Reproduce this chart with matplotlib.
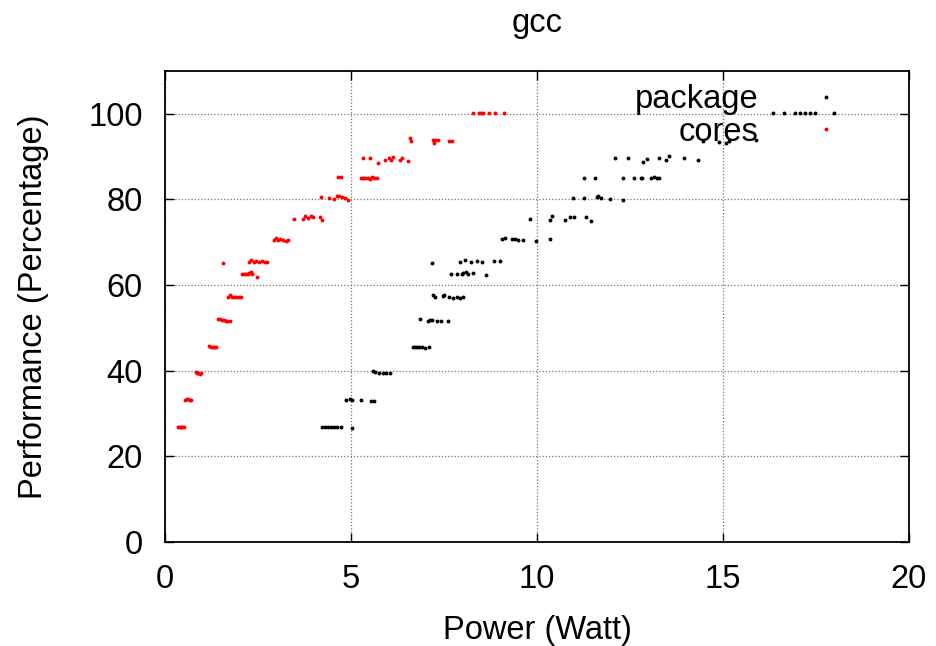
import matplotlib
matplotlib.use("Agg")
import matplotlib.pyplot as plt

plt.rcParams['font.family'] = ['Liberation Sans', 'DejaVu Sans']

# ---- data: package (black) ----
pkg_x = [4.22, 4.30, 4.38, 4.46, 4.55, 4.63, 4.72, 5.02,
         4.86, 4.96, 5.04, 5.27, 5.53, 5.62,
         5.59, 5.64, 5.75, 5.85, 5.95, 6.05,
         6.67, 6.72, 6.77, 6.83, 6.92, 7.00, 7.10,
         6.85, 7.07, 7.12, 7.17, 7.30, 7.42, 7.60,
         7.17,
         7.21, 7.26, 7.47, 7.51, 7.64, 7.73, 7.86, 7.93, 8.00,
         7.69, 7.84, 7.99, 8.02, 8.09, 8.15, 8.29, 8.62,
         7.93, 8.06, 8.22, 8.38, 8.51, 8.85, 9.01,
         9.05, 9.14, 9.32, 9.41, 9.50, 9.62, 9.97, 10.35,
         9.81, 10.35, 10.41, 10.75, 10.90, 11.00, 11.32, 11.45,
         10.98, 11.25, 11.60, 11.65, 11.72, 11.96, 12.32,
         11.25, 11.56, 12.30, 12.61, 12.79, 12.83, 13.06, 13.15, 13.22, 13.29,
         12.10, 12.45, 12.84, 12.97, 13.29, 13.46, 13.56, 13.96, 14.34,
         14.45, 14.90, 15.08, 15.15, 15.90,
         16.35, 16.64, 16.94, 17.07, 17.20, 17.34, 17.47, 17.98]
pkg_y = [26.9, 26.8, 26.8, 26.8, 26.8, 26.8, 26.9, 26.6,
         33.2, 33.3, 33.2, 33.2, 33.0, 32.9,
         39.9, 39.6, 39.4, 39.4, 39.4, 39.5,
         45.5, 45.6, 45.6, 45.5, 45.5, 45.4, 45.5,
         52.1, 51.7, 51.8, 51.8, 51.6, 51.6, 51.5,
         65.1,
         57.6, 57.2, 57.5, 57.6, 57.3, 57.1, 57.2, 57.1, 57.2,
         62.5, 62.6, 62.6, 62.9, 63.1, 62.7, 62.9, 62.4,
         65.5, 65.8, 65.5, 65.7, 65.5, 65.7, 65.6,
         70.7, 71.0, 70.8, 70.7, 70.6, 70.6, 70.3, 70.8,
         75.5, 75.3, 76.1, 75.3, 75.8, 75.8, 75.8, 74.9,
         80.3, 80.3, 80.6, 80.8, 80.3, 80.2, 79.8,
         85.0, 85.0, 85.0, 84.9, 84.9, 85.1, 84.9, 85.3, 85.0, 85.0,
         89.6, 89.6, 88.7, 89.4, 89.6, 89.3, 90.1, 89.6, 89.2,
         93.6, 93.5, 93.3, 93.6, 93.9,
         100.2, 100.2, 100.1, 100.2, 100.2, 100.1, 100.2, 100.2]

# ---- data: cores (red) ----
cor_x = [0.35, 0.39, 0.43, 0.47, 0.52,
         0.55, 0.59, 0.63, 0.67, 0.71,
         0.82, 0.86, 0.90, 0.94, 0.98,
         1.19, 1.24, 1.28, 1.33, 1.38,
         1.43, 1.48, 1.53, 1.58, 1.63, 1.68, 1.74,
         1.55,
         1.70, 1.75, 1.80, 1.86, 1.92, 1.98, 2.03,
         2.06, 2.12, 2.18, 2.22, 2.27, 2.31, 2.35, 2.47,
         2.26, 2.32, 2.38, 2.44, 2.52, 2.60, 2.68, 2.74,
         2.93, 2.98, 3.04, 3.10, 3.16, 3.24, 3.31,
         3.47, 3.71, 3.76, 3.85, 3.92, 3.99, 4.17, 4.22,
         4.19, 4.42, 4.54, 4.62, 4.67, 4.76, 4.84, 4.92,
         4.64, 4.74,
         5.28, 5.32, 5.38, 5.45, 5.50, 5.56, 5.62, 5.71,
         5.33, 5.51, 5.72,
         5.91, 6.02, 6.08, 6.12, 6.32, 6.37, 6.52,
         6.59, 6.62,
         7.21, 7.23, 7.27, 7.34, 7.63, 7.72,
         8.28, 8.44, 8.50, 8.56, 8.71, 8.87, 9.10]
cor_y = [26.9, 26.8, 26.9, 26.8, 26.8,
         33.2, 33.3, 33.3, 33.2, 33.2,
         39.6, 39.4, 39.4, 39.3, 39.5,
         45.7, 45.6, 45.6, 45.5, 45.5,
         52.0, 52.1, 51.8, 51.8, 51.6, 51.7, 51.6,
         65.1,
         57.3, 57.6, 57.2, 57.3, 57.2, 57.3, 57.2,
         62.5, 62.5, 62.6, 62.5, 62.8, 63.0, 62.6, 62.0,
         65.4, 65.8, 65.5, 65.7, 65.4, 65.6, 65.4, 65.5,
         70.5, 70.9, 70.5, 70.8, 70.6, 70.3, 70.6,
         75.5, 75.5, 76.2, 75.6, 76.1, 76.0, 76.0, 75.2,
         80.5, 80.3, 80.0, 80.8, 80.9, 80.5, 80.3, 79.8,
         85.2, 85.2,
         85.1, 85.0, 84.9, 85.1, 84.8, 85.2, 85.0, 85.1,
         89.6, 89.6, 88.6,
         89.2, 89.6, 89.2, 89.9, 89.2, 89.6, 89.0,
         94.3, 93.6,
         93.9, 93.3, 93.9, 93.9, 93.6, 93.6,
         100.1, 100.1, 100.1, 100.1, 100.1, 100.1, 100.1]

x_ticks = [0, 5, 10, 15, 20]
y_ticks = [0, 20, 40, 60, 80, 100]

FS = 23.5

fig = plt.figure(figsize=(9.36, 6.46), dpi=100)
ax = fig.add_axes([165/936, 1 - 542/646, 744/936, 471/646])

ax.plot(pkg_x, pkg_y, 'o', color='black', markersize=2.8, markeredgewidth=0, label='package')
ax.plot(cor_x, cor_y, 'o', color='red', markersize=2.8, markeredgewidth=0, label='cores')

ax.set_xlim(0, 20)
ax.set_ylim(0, 110)
ax.set_xticks(x_ticks)
ax.set_yticks(y_ticks)
ax.tick_params(direction='in', length=6.5, width=1, top=True, right=True,
               labelsize=FS, pad=16)
ax.grid(True, linestyle=(0, (1, 1.6)), color='#777777', linewidth=0.9)
ax.set_axisbelow(True)
for s in ax.spines.values():
    s.set_linewidth(1.3)

ax.set_xlabel('Power (Watt)', fontsize=FS, labelpad=14)
ax.set_ylabel('Performance (Percentage)', fontsize=FS, labelpad=28)
ax.set_title('gcc', fontsize=FS, pad=28)

leg = ax.legend(loc='upper right', bbox_to_anchor=(0.932, 0.972), markerfirst=False,
                frameon=False, fontsize=FS, handlelength=2, handletextpad=1.05,
                borderpad=0, borderaxespad=0, labelspacing=0.05, markerscale=1.0)

fig.savefig('out.png', dpi=100)
